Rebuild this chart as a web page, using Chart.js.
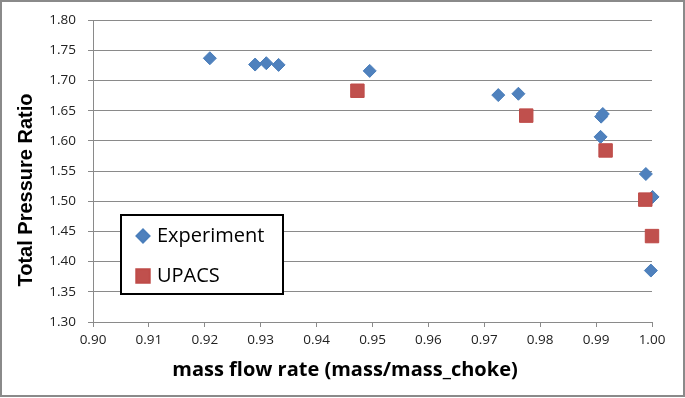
<!DOCTYPE html>
<html><head><meta charset="utf-8">
<script src="https://cdn.jsdelivr.net/npm/chart.js@4/dist/chart.umd.min.js"></script>
<style>html,body{margin:0;padding:0;background:#fff;}#wrap{position:relative;width:685px;height:398px;}</style>
</head><body><div id="wrap"><canvas id="c" width="685" height="398"></canvas></div>
<script>
// ---- data ----
const seriesNames = ["Experiment", "UPACS"];
const expX = [0.9209, 0.9290, 0.9310, 0.9332, 0.9495, 0.9725, 0.9761, 0.9909, 0.9912, 0.9908, 0.9989, 1.0001, 0.9998];
const expY = [1.7368, 1.7264, 1.7286, 1.7258, 1.7159, 1.6758, 1.6780, 1.6401, 1.6445, 1.6066, 1.5451, 1.5071, 1.3852];
const upX = [0.9473, 0.9775, 0.9917, 0.9988, 1.0000];
const upY = [1.6830, 1.6418, 1.5841, 1.5027, 1.4423];
const xTickValues = [0.90, 0.91, 0.92, 0.93, 0.94, 0.95, 0.96, 0.97, 0.98, 0.99, 1.00];
const yTickValues = [1.30, 1.35, 1.40, 1.45, 1.50, 1.55, 1.60, 1.65, 1.70, 1.75, 1.80];
const xTitle = "mass flow rate (mass/mass_choke)";
const yTitle = "Total Pressure Ratio";

const colors = { exp: "#4F81BD", up: "#C0504D" };

const deco = {
  id: "deco",
  beforeDraw(chart) {
    const ctx = chart.ctx;
    ctx.save(); ctx.fillStyle = "#fff"; ctx.fillRect(0, 0, chart.width, chart.height); ctx.restore();
  },
  afterDraw(chart) {
    const ctx = chart.ctx;
    ctx.save();
    ctx.strokeStyle = "#8a8a8a"; ctx.lineWidth = 2;
    ctx.strokeRect(1, 1, chart.width - 2, chart.height - 3);
    // axis titles
    ctx.fillStyle = "#000";
    ctx.textAlign = "center"; ctx.textBaseline = "middle";
    ctx.font = 'bold 20px "Open Sans"';
    ctx.fillText(xTitle, 345, 370);
    ctx.save();
    ctx.translate(26, 190); ctx.rotate(-Math.PI / 2);
    ctx.font = 'bold 20px "Liberation Sans"';
    ctx.fillText(yTitle, 0, 0);
    ctx.restore();
    // legend
    const bx = 121, by = 215, bw = 162, bh = 79;
    ctx.fillStyle = "#fff"; ctx.fillRect(bx, by, bw, bh);
    ctx.strokeStyle = "#000"; ctx.lineWidth = 2; ctx.strokeRect(bx, by, bw, bh);
    const ds = chart.data.datasets;
    const rows = [236, 276];
    ds.forEach((d, i) => {
      ctx.fillStyle = d.backgroundColor; ctx.strokeStyle = d.borderColor;
      Chart.helpers.drawPoint(ctx, { pointStyle: d.pointStyle, radius: d.pointRadius, rotation: 0, borderWidth: 1 }, 143, rows[i]);
      ctx.fillStyle = "#000"; ctx.textAlign = "left"; ctx.textBaseline = "middle";
      ctx.font = '20px "Open Sans"';
      ctx.fillText(d.label, 157, rows[i]);
    });
    ctx.restore();
  }
};

new Chart(document.getElementById("c"), {
  type: "scatter",
  data: {
    datasets: [
      { label: seriesNames[0], data: expX.map((x, i) => ({ x, y: expY[i] })), pointStyle: "rectRot", pointRadius: 6.5,
        backgroundColor: colors.exp, borderColor: "#4A7EBB", pointBorderWidth: 1, clip: false, order: 1 },
      { label: seriesNames[1], data: upX.map((x, i) => ({ x, y: upY[i] })), pointStyle: "rect", pointRadius: 9.5,
        backgroundColor: colors.up, borderColor: "#BE4B48", pointBorderWidth: 1, clip: false, order: 0 }
    ]
  },
  options: {
    responsive: false, animation: false, devicePixelRatio: 1, events: [],
    layout: { padding: { left: 0, right: 33, top: 17, bottom: 0 } },
    plugins: { legend: { display: false }, tooltip: { enabled: false } },
    scales: {
      x: {
        type: "linear", min: 0.90, max: 1.00,
        afterBuildTicks: s => { s.ticks = xTickValues.map(v => ({ value: v })); },
        afterFit: s => { s.height = 76; },
        ticks: { callback: v => v.toFixed(2), color: "#222", font: { family: "Open Sans", size: 13.5 }, padding: 5, maxRotation: 0, autoSkip: false },
        grid: { drawOnChartArea: false, drawTicks: true, tickLength: 5, color: "#8a8a8a" },
        border: { display: true, color: "#8a8a8a", width: 1 }
      },
      y: {
        type: "linear", min: 1.30, max: 1.80,
        afterBuildTicks: s => { s.ticks = yTickValues.map(v => ({ value: v })); },
        afterFit: s => { s.width = 93; },
        ticks: { callback: v => v.toFixed(2), color: "#222", font: { family: "Open Sans", size: 13.5 }, padding: 12, autoSkip: false },
        grid: { drawOnChartArea: true, drawTicks: true, tickLength: 5, color: "#8a8a8a", lineWidth: 1 },
        border: { display: true, color: "#8a8a8a", width: 1 }
      }
    }
  },
  plugins: [deco]
});
</script></body></html>
